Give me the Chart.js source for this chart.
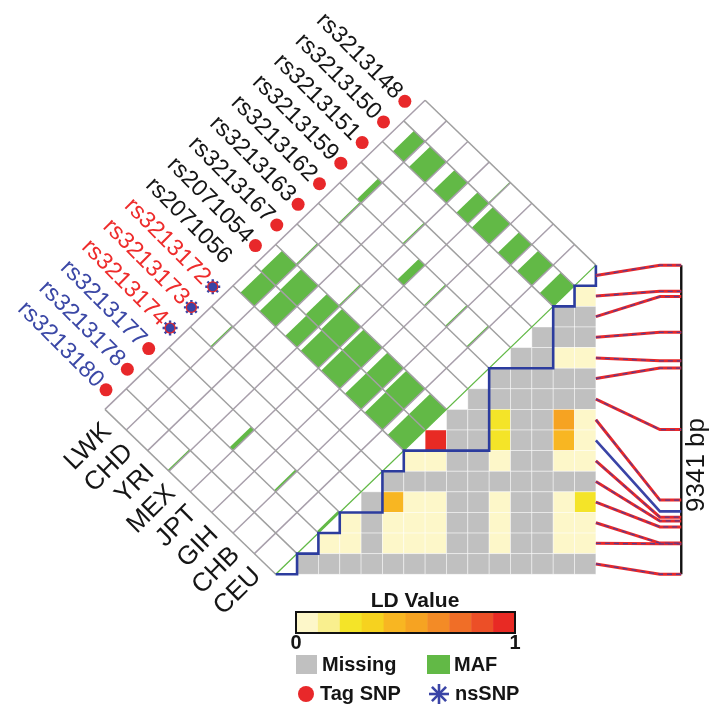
<!DOCTYPE html>
<html>
<head>
<meta charset="utf-8">
<script src="https://cdn.jsdelivr.net/npm/chart.js@4.4.0/dist/chart.umd.min.js"></script>
<style>
  html, body { margin: 0; padding: 0; background: #fff; }
  #wrap { width: 718px; height: 708px; }
</style>
</head>
<body>
<div id="wrap"><canvas id="ldChart"></canvas></div>
<script>
// ── Data ───────────────────────────────────────────────────────────────────────
const snps = ['rs3213148', 'rs3213150', 'rs3213151', 'rs3213159', 'rs3213162', 'rs3213163', 'rs3213167',
  'rs2071054', 'rs2071056', 'rs3213172', 'rs3213173', 'rs3213174', 'rs3213177', 'rs3213178', 'rs3213180'];
const snpGroup = ['k', 'k', 'k', 'k', 'k', 'k', 'k', 'k', 'k', 'r', 'r', 'r', 'b', 'b', 'b'];
const snpMark = ['tag', 'tag', 'tag', 'tag', 'tag', 'tag', 'tag', 'tag', '', 'ns', 'ns', 'ns', 'tag', 'tag', 'tag'];
const pops = ['LWK', 'CHD', 'YRI', 'MEX', 'JPT', 'GIH', 'CHB', 'CEU'];

// minor allele frequency, one row per SNP, one value per population
const maf = [
  [0, 0, 0, 0.02, 0, 0, 0, 0],
  [0.26, 0.38, 0.31, 0.27, 0.41, 0.3, 0.35, 0.32],
  [0, 0, 0, 0, 0, 0, 0, 0],
  [0.1, 0, 0.03, 0, 0, 0, 0, 0],
  [0.03, 0, 0, 0.15, 0.03, 0.03, 0.03, 0],
  [0, 0, 0, 0, 0, 0, 0, 0],
  [0.03, 0, 0.03, 0, 0, 0, 0, 0],
  [0.35, 0.4, 0.3, 0.44, 0.44, 0.38, 0.44, 0.38],
  [0.33, 0.38, 0.28, 0.42, 0.44, 0.38, 0.42, 0.38],
  [0, 0, 0, 0, 0, 0, 0, 0],
  [0.03, 0, 0, 0, 0, 0, 0, 0],
  [0, 0, 0, 0, 0, 0, 0, 0],
  [0, 0, 0, 0.08, 0, 0.04, 0, 0.04],
  [0, 0, 0, 0, 0, 0, 0, 0],
  [0, 0, 0.03, 0, 0, 0, 0, 0]
];

// LD of SNP r with SNP r-1, r-2, ... 0 (null = missing)
const ld = [
  [],
  [0.05],
  [null, null],
  [null, null, null],
  [null, null, 0.05, 0.05],
  [null, null, null, null, null],
  [null, null, null, null, null, null],
  [null, null, 0.25, null, null, 0.55, 0.05],
  [0.95, null, null, 0.25, null, null, 0.45, 0.05],
  [0.05, 0.05, null, null, 0.05, null, null, 0.05, 0.05],
  [null, null, null, null, null, null, null, null, null, null],
  [null, 0.45, 0.05, 0.05, null, null, 0.05, null, null, 0.05, 0.25],
  [0.05, null, 0.05, 0.05, 0.05, null, null, 0.05, null, null, 0.05, 0.05],
  [0.05, 0.05, null, 0.05, 0.05, 0.05, null, null, 0.05, null, null, 0.05, 0.05],
  [null, null, null, null, null, null, null, null, null, null, null, null, null, null]
];

// haplotype block outline, as [column, row] steps of the LD grid
const blockSteps = [[15, 0], [15, 1], [14, 1], [14, 2], [13, 2], [13, 5], [10, 5], [10, 9], [6, 9], [6, 10],
  [5, 10], [5, 12], [3, 12], [3, 13], [2, 13], [2, 14], [1, 14], [1, 15], [0, 15]];

// physical position of each SNP in the region (bp)
const regionLen = 9341;
const snpPos = [0, 790, 950, 2030, 2890, 3110, 4970, 7100, 7440, 7615, 7730, 7910, 8400, 8420, 9341];
const connKind = ['r', 'r', 'r', 'r', 'r', 'r', 'r', 'r', 'b', 'r', 'r', 'r', 'r', 'r', 'r'];

const ldTicks = ['0', '1'];
const ldColors = ['#fdf7c9', '#f9ef8e', '#f4e428', '#f6d21f', '#f8b622', '#f6a322', '#f38b26', '#f06e27', '#ec4f27', '#e82a24'];

// ── Look ───────────────────────────────────────────────────────────────────────
const W = 718, H = 708;
const UX = 21.95, UY = 21.2, OX = 427, OY = 93;   // one grid step in px, top corner of the diamond
const NPOP = pops.length, NSNP = snps.length;
const GREEN = '#62b946', MISSING = '#c0c0c0', RED = '#e8282a', BLUE = '#3a44a6', PURPLE = '#5b3a8e';
const FONT = "'Liberation Sans', Arial, sans-serif";
const textColor = { k: '#151515', r: '#ee2c2c', b: '#3b48a6' };

const ldColor = v => v == null ? MISSING : ldColors[Math.min(9, Math.floor(v * 10))];
const dia = (a, b) => ({ x: a - b, y: a + b });   // a: along populations, b: along SNPs

// ── Datasets ───────────────────────────────────────────────────────────────────
const datasets = [];

// diagonal edge of the diamond
datasets.push({
  data: [dia(NPOP, 0), dia(NPOP, NSNP)],
  showLine: true, borderColor: GREEN, borderWidth: 1.3, pointRadius: 0, order: 6
});

// block outline
datasets.push({
  data: blockSteps.map(([c, r]) => ({ x: NPOP - NSNP + c, y: NPOP + r })),
  showLine: true, borderColor: '#2c3c9e', borderWidth: 2.6, pointRadius: 0, order: 4
});

// position axis
datasets.push({
  data: [{ x: NPOP + 4, y: NPOP }, { x: NPOP + 4, y: NPOP + NSNP }],
  showLine: true, borderColor: '#111', borderWidth: 2.4, pointRadius: 0, order: 5
});

// connectors from each LD row to its position
snps.forEach((_, s) => {
  const yEnd = NPOP + NSNP * snpPos[s] / regionLen;
  const pts = [{ x: NPOP, y: NPOP + s + 0.5 }, { x: NPOP + 3, y: yEnd }, { x: NPOP + 4, y: yEnd }];
  if (connKind[s] === 'b') {
    datasets.push({ data: pts, showLine: true, borderColor: BLUE, borderWidth: 2.6, pointRadius: 0, order: 2 });
  } else {
    datasets.push({ data: pts, showLine: true, borderColor: RED, borderWidth: 3, pointRadius: 0, order: 2 });
    datasets.push({ data: pts, showLine: true, borderColor: PURPLE, borderWidth: 1.3, borderDash: [5, 4], pointRadius: 0, order: 1 });
  }
});

// tag SNP dots and nsSNP stars beside the labels
const markAt = s => dia(-0.45, s + 0.5);
datasets.push({
  data: snps.map((_, s) => s).filter(s => snpMark[s] === 'tag').map(markAt),
  pointStyle: 'circle', pointRadius: 6.5, backgroundColor: RED, borderWidth: 0, order: 0
});
datasets.push({
  data: snps.map((_, s) => s).filter(s => snpMark[s] === 'ns').map(markAt),
  pointStyle: 'circle', pointRadius: 5, backgroundColor: BLUE, borderColor: RED, borderWidth: 1.2, order: 0
});
datasets.push({
  data: snps.map((_, s) => s).filter(s => snpMark[s] === 'ns').map(markAt),
  pointStyle: 'star', pointRadius: 7.5, borderColor: BLUE, borderWidth: 2.4, order: 0
});

// ── Cells: MAF bars, diamond grid, LD matrix ───────────────────────────────────
const cellPlugin = {
  id: 'cells',
  beforeDatasetsDraw(chart) {
    const ctx = chart.ctx, sx = chart.scales.x, sy = chart.scales.y;
    const P = q => [sx.getPixelForValue(q.x), sy.getPixelForValue(q.y)];
    const poly = (pts, fill) => {
      ctx.beginPath();
      pts.map(P).forEach((p, i) => i ? ctx.lineTo(p[0], p[1]) : ctx.moveTo(p[0], p[1]));
      ctx.closePath();
      ctx.fillStyle = fill;
      ctx.fill();
    };
    const seg = (q1, q2, color, w) => {
      const a = P(q1), b = P(q2);
      ctx.beginPath(); ctx.moveTo(a[0], a[1]); ctx.lineTo(b[0], b[1]);
      ctx.strokeStyle = color; ctx.lineWidth = w; ctx.stroke();
    };
    ctx.save();

    // MAF bars, growing from the lower-right side of each cell
    maf.forEach((row, s) => row.forEach((m, p) => {
      if (!m) return;
      const f = m / 0.5;
      poly([dia(p + 1 - f, s), dia(p + 1, s), dia(p + 1, s + 1), dia(p + 1 - f, s + 1)], GREEN);
    }));

    // grid of the rotated table
    for (let a = 0; a < NPOP; a++) seg(dia(a, 0), dia(a, NSNP), '#a89fab', 1.5);
    for (let b = 0; b <= NSNP; b++) seg(dia(0, b), dia(NPOP, b), '#a0a0a0', 1.5);

    // LD matrix
    ld.forEach((row, r) => row.forEach((v, k) => {
      const c = NSNP - 1 - (r - 1 - k);
      const x0 = NPOP - NSNP + c, y0 = NPOP + r;
      poly([{ x: x0, y: y0 }, { x: x0 + 1, y: y0 }, { x: x0 + 1, y: y0 + 1 }, { x: x0, y: y0 + 1 }], ldColor(v));
      const a = P({ x: x0, y: y0 }), b = P({ x: x0 + 1, y: y0 + 1 });
      ctx.strokeStyle = 'rgba(255,255,255,0.55)';
      ctx.lineWidth = 0.8;
      ctx.strokeRect(a[0], a[1], b[0] - a[0], b[1] - a[1]);
    }));
    ctx.restore();
  },

  afterDatasetsDraw(chart) {
    const ctx = chart.ctx, sx = chart.scales.x, sy = chart.scales.y;
    const P = q => [sx.getPixelForValue(q.x), sy.getPixelForValue(q.y)];
    ctx.save();

    // SNP names along the upper-left edge
    ctx.font = `23.5px ${FONT}`;
    ctx.textAlign = 'right';
    ctx.textBaseline = 'middle';
    snps.forEach((name, s) => {
      const [x, y] = P(dia(-0.74, s + 0.5));
      ctx.save();
      ctx.translate(x, y);
      ctx.rotate(Math.PI / 4);
      ctx.fillStyle = textColor[snpGroup[s]];
      ctx.fillText(name, 0, 0);
      ctx.restore();
    });

    // populations along the lower-left edge
    ctx.font = `26px ${FONT}`;
    pops.forEach((name, p) => {
      const [x, y] = P(dia(p + 0.5, NSNP + 0.38));
      ctx.save();
      ctx.translate(x, y);
      ctx.rotate(-Math.PI / 4);
      ctx.fillStyle = '#151515';
      ctx.fillText(name, 0, 0);
      ctx.restore();
    });

    // region length beside the position axis
    const [ax] = P({ x: NPOP + 4, y: 0 });
    ctx.save();
    ctx.translate(ax + 16, 465);
    ctx.rotate(-Math.PI / 2);
    ctx.textAlign = 'center';
    ctx.font = `26px ${FONT}`;
    ctx.fillStyle = '#151515';
    ctx.fillText(`${regionLen} bp`, 0, 0);
    ctx.restore();

    // ── Legend ────────────────────────────────────────────────────────────────
    const bx = 296, by = 612, bw = 219, bh = 21;
    ctx.fillStyle = '#151515';
    ctx.textAlign = 'center';
    ctx.font = `bold 21px ${FONT}`;
    ctx.fillText('LD Value', 415, 601);
    ldColors.forEach((col, i) => {
      ctx.fillStyle = col;
      ctx.fillRect(bx + i * bw / ldColors.length, by, bw / ldColors.length + 0.5, bh);
    });
    ctx.strokeStyle = '#111';
    ctx.lineWidth = 2;
    ctx.strokeRect(bx, by, bw, bh);
    ctx.fillStyle = '#151515';
    ctx.font = `bold 20px ${FONT}`;
    ctx.fillText(ldTicks[0], bx, by + bh + 10);
    ctx.fillText(ldTicks[1], bx + bw, by + bh + 10);

    ctx.textAlign = 'left';
    ctx.fillStyle = MISSING; ctx.fillRect(296, 655, 21, 19);
    ctx.fillStyle = GREEN; ctx.fillRect(427, 655, 23, 19);
    ctx.fillStyle = '#151515';
    ctx.fillText('Missing', 322, 665);
    ctx.fillText('MAF', 454, 665);

    ctx.beginPath(); ctx.arc(306, 694, 8, 0, Math.PI * 2); ctx.fillStyle = RED; ctx.fill();
    ctx.strokeStyle = BLUE; ctx.lineWidth = 2.6;
    for (let i = 0; i < 4; i++) {
      const t = i * Math.PI / 4;
      ctx.beginPath();
      ctx.moveTo(439 - 10 * Math.cos(t), 694 - 10 * Math.sin(t));
      ctx.lineTo(439 + 10 * Math.cos(t), 694 + 10 * Math.sin(t));
      ctx.stroke();
    }
    ctx.fillStyle = '#151515';
    ctx.fillText('Tag SNP', 320, 694);
    ctx.fillText('nsSNP', 455, 694);
    ctx.restore();
  }
};

new Chart(document.getElementById('ldChart'), {
  type: 'scatter',
  data: { datasets },
  options: {
    responsive: true,
    maintainAspectRatio: false,
    animation: false,
    layout: { padding: 0 },
    clip: false,
    plugins: { legend: { display: false }, tooltip: { enabled: false } },
    scales: {
      x: { type: 'linear', display: false, min: -OX / UX, max: (W - OX) / UX },
      y: { type: 'linear', display: false, reverse: true, min: -OY / UY, max: (H - OY) / UY }
    }
  },
  plugins: [cellPlugin]
});
</script>
</body>
</html>
